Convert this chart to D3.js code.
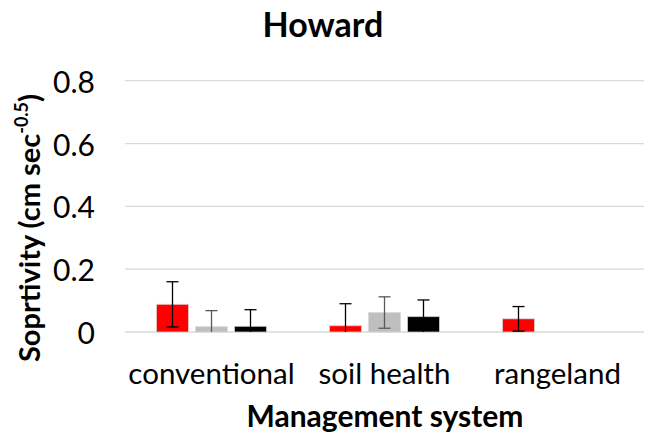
<!DOCTYPE html>
<html>
<head>
<meta charset="utf-8">
<script src="https://cdn.jsdelivr.net/npm/d3@7"></script>
<style>
  html, body { margin: 0; padding: 0; background: #fff; }
  svg { display: block; }
  text { font-family: Lato, "Open Sans", sans-serif; fill: #000; }
</style>
</head>
<body>
<svg id="chart" width="652" height="438"></svg>
<script>
const title = "Howard";
const categories = ["conventional", "soil health", "rangeland"];
const series = ["Series A", "Series B", "Series C"];
const seriesColors = ["#ff0000", "#bfbfbf", "#000000"];
const errorColors = ["#000000", "#595959", "#000000"];
const valuesA = [0.088, 0.020, 0.042];
const valuesB = [0.017, 0.062, null];
const valuesC = [0.018, 0.049, null];
const errorsA = [0.072, 0.070, 0.039];
const errorsB = [0.051, 0.050, null];
const errorsC = [0.053, 0.053, null];
const yTicks = [0, 0.2, 0.4, 0.6, 0.8];
const yTickLabels = ["0", "0.2", "0.4", "0.6", "0.8"];
const xTitle = "Management system";

const allValues = [valuesA, valuesB, valuesC];
const allErrors = [errorsA, errorsB, errorsC];

const svg = d3.select("#chart");

const y = d3.scaleLinear().domain([0, 0.8]).range([332, 80.7]);
const x = d3.scaleBand().domain(categories).range([125, 644]);
const xInner = d3.scaleBand().domain(series).range([28, 145]).paddingInner(0.18).paddingOuter(0.09);

// gridlines
svg.append("g").selectAll("line").data(yTicks).join("line")
  .attr("x1", x.range()[0]).attr("x2", x.range()[1])
  .attr("y1", d => y(d)).attr("y2", d => y(d))
  .attr("stroke", "#d9d9d9").attr("stroke-width", 1.3);

// y tick labels
svg.append("g").selectAll("text").data(yTicks).join("text")
  .attr("x", 95).attr("y", d => y(d))
  .attr("text-anchor", "end").attr("dominant-baseline", "central")
  .attr("font-size", 30)
  .text((d, i) => yTickLabels[i]);

// bars
const barData = [];
series.forEach((s, si) => {
  categories.forEach((c, ci) => {
    const v = allValues[si][ci];
    if (v !== null) barData.push({s, si, c, v, e: allErrors[si][ci]});
  });
});

const cx = d => x(d.c) + xInner(d.s) + xInner.bandwidth() / 2;

svg.append("g").selectAll("rect").data(barData).join("rect")
  .attr("x", d => x(d.c) + xInner(d.s))
  .attr("width", xInner.bandwidth())
  .attr("y", d => y(d.v))
  .attr("height", d => y(0) - y(d.v))
  .attr("fill", d => seriesColors[d.si])
  .attr("stroke", "#d9d9d9").attr("stroke-opacity", 0.7).attr("stroke-width", 1);

// error bars
const eg = svg.append("g").selectAll("g").data(barData).join("g")
  .attr("stroke", d => errorColors[d.si]).attr("stroke-width", 1.3);
eg.append("line")
  .attr("x1", cx).attr("x2", cx)
  .attr("y1", d => y(d.v + d.e))
  .attr("y2", d => y(Math.max(0, d.v - d.e)));
eg.append("line")
  .attr("x1", d => cx(d) - 6).attr("x2", d => cx(d) + 6)
  .attr("y1", d => y(d.v + d.e)).attr("y2", d => y(d.v + d.e));
eg.filter(d => d.v - d.e > 0).append("line")
  .attr("x1", d => cx(d) - 6).attr("x2", d => cx(d) + 6)
  .attr("y1", d => y(d.v - d.e)).attr("y2", d => y(d.v - d.e));

// category labels
svg.append("g").selectAll("text").data(categories).join("text")
  .attr("x", d => x(d) + x.bandwidth() / 2)
  .attr("y", 384)
  .attr("text-anchor", "middle")
  .attr("font-size", 29.5)
  .text(d => d);

// title
svg.append("text").attr("x", 323).attr("y", 37)
  .attr("text-anchor", "middle").attr("font-size", 34).attr("font-weight", "bold")
  .text(title);

// x title
svg.append("text").attr("x", 385).attr("y", 427)
  .attr("text-anchor", "middle").attr("font-size", 30).attr("font-weight", "bold")
  .text(xTitle);

// y title
const yt = svg.append("text")
  .attr("transform", "translate(40,228) rotate(-90)")
  .attr("text-anchor", "middle").attr("font-size", 29).attr("font-weight", "bold");
yt.append("tspan").text("Soprtivity (cm sec");
yt.append("tspan").attr("font-size", 18).attr("dy", -12).text("-0.5");
yt.append("tspan").attr("dy", 12).text(")");
</script>
</body>
</html>
